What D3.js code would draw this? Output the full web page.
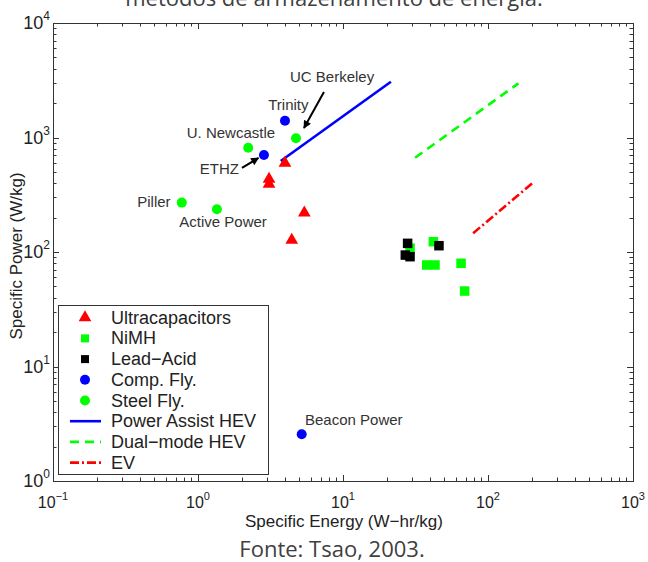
<!DOCTYPE html>
<html><head><meta charset="utf-8">
<script src="https://cdn.jsdelivr.net/npm/d3@7"></script>
<style>body{margin:0;background:#fff}svg{display:block}</style>
</head><body><svg id="c" width="648" height="562"></svg>
<script>
// ---- data (specific energy W-hr/kg, specific power W/kg) ----
const ultraE = [3.98, 3.09, 3.09, 5.41, 4.43];
const ultraP = [598, 434, 392, 220, 127];
const nimhE = [42.0, 29.0, 37.8, 43.1, 65.2, 69.0];
const nimhP = [123, 108, 77, 77, 79.7, 45.6];
const leadE = [27.9, 26.9, 29.0, 45.9];
const leadP = [119, 94, 91, 113.5];
const compE = [3.98, 2.85, 5.19];
const compP = [1403, 703, 2.56];
const steelE = [4.74, 2.22, 0.773, 1.35];
const steelP = [984, 815, 270, 236];
const powerAssistE = [3.72, 21.4];
const powerAssistP = [623, 3070];
const dualModeE = [31.4, 162];
const dualModeP = [666, 2967];
const evE = [79, 202];
const evP = [146, 398];
const xTickVals = [0.1, 1, 10, 100, 1000];
const xTickExp = ["−1", "0", "1", "2", "3"];
const yTickVals = [1, 10, 100, 1000, 10000];
const yTickExp = ["0", "1", "2", "3", "4"];
const labelNames = ["UC Berkeley", "Trinity", "U. Newcastle", "ETHZ", "Piller", "Active Power", "Beacon Power"];
const labelE = [4.31, 3.05, 0.836, 1.03, 0.381, 0.743, 5.47];
const labelP = [3052, 1738, 984, 477, 249, 166, 3.08];
const arrowFromE = [7.39, 2.01];
const arrowFromP = [2497, 542];
const arrowToE = [5.38, 2.61];
const arrowToP = [1211, 662];
const legendNames = ["Ultracapacitors", "NiMH", "Lead−Acid", "Comp. Fly.", "Steel Fly.", "Power Assist HEV", "Dual−mode HEV", "EV"];
const titleText = "métodos de armazenamento de energia.";
const sourceText = "Fonte: Tsao, 2003.";
const xTitle = "Specific Energy (W−hr/kg)";
const yTitle = "Specific Power (W/kg)";

// ---- setup ----
const svg = d3.select("#c");
const F = "'Liberation Sans', Arial, Helvetica, sans-serif";
const axisColor = "#333";
const x = d3.scaleLog().domain([0.1, 1000]).range([53, 633]);
const y = d3.scaleLog().domain([1, 10000]).range([481, 23]);
const [x0, x1] = x.range(), [y0, y1] = y.range();

// caption text (document)
svg.append("text").attr("x", 334).attr("y", 6).attr("text-anchor", "middle")
  .attr("font-family", "'Open Sans', sans-serif").attr("font-size", 22).attr("fill", "#404040").text(titleText);
svg.append("text").attr("x", 332).attr("y", 557).attr("text-anchor", "middle")
  .attr("font-family", "'Open Sans', sans-serif").attr("font-size", 22).attr("fill", "#404040").text(sourceText);

// plot area
const isMajor = v => Math.abs(Math.log10(v) - Math.round(Math.log10(v))) < 1e-9;
const ticksG = svg.append("g").attr("stroke", axisColor).attr("stroke-width", 1);
x.ticks().forEach(v => {
  const px = Math.round(x(v)) + 0.5, L = isMajor(v) ? 6 : 3.5;
  ticksG.append("line").attr("x1", px).attr("x2", px).attr("y1", y0).attr("y2", y0 - L);
  ticksG.append("line").attr("x1", px).attr("x2", px).attr("y1", y1).attr("y2", y1 + L);
});
y.ticks().forEach(v => {
  const py = Math.round(y(v)) + 0.5, L = isMajor(v) ? 6 : 3.5;
  ticksG.append("line").attr("y1", py).attr("y2", py).attr("x1", x0).attr("x2", x0 + L);
  ticksG.append("line").attr("y1", py).attr("y2", py).attr("x1", x1).attr("x2", x1 - L);
});
svg.append("rect").attr("x", x0 + 0.5).attr("y", y1 + 0.5).attr("width", x1 - x0).attr("height", y0 - y1)
  .attr("fill", "none").attr("stroke", axisColor).attr("stroke-width", 1);

// tick labels
xTickVals.forEach((v, i) => {
  const t = svg.append("text").attr("x", x(v)).attr("y", 508).attr("text-anchor", "middle")
    .attr("font-family", F).attr("font-size", 16).attr("fill", "#222");
  t.append("tspan").text("10");
  t.append("tspan").attr("dy", -8).attr("font-size", 11).text(xTickExp[i]);
});
yTickVals.forEach((v, i) => {
  const t = svg.append("text").attr("x", 50).attr("y", y(v) + 6).attr("text-anchor", "end")
    .attr("font-family", F).attr("font-size", 18).attr("fill", "#222");
  t.append("tspan").text("10");
  t.append("tspan").attr("dy", -9).attr("font-size", 12).text(yTickExp[i]);
});

// axis titles
svg.append("text").attr("x", 344).attr("y", 527).attr("text-anchor", "middle")
  .attr("font-family", F).attr("font-size", 17).attr("fill", "#222").text(xTitle);
svg.append("text").attr("transform", `translate(22,${(y0 + y1) / 2 + 4}) rotate(-90)`).attr("text-anchor", "middle")
  .attr("font-family", F).attr("font-size", 17).attr("fill", "#222").text(yTitle);

// lines
const lineGen = d3.line().x(d => x(d[0])).y(d => y(d[1]));
const lines = [
  {E: powerAssistE, P: powerAssistP, color: "#0000ff", dash: null},
  {E: dualModeE, P: dualModeP, color: "#00ff00", dash: "9,6"},
  {E: evE, P: evP, color: "#ff0000", dash: "9,3,2,3"}
];
lines.forEach(l => {
  svg.append("path").datum(l.E.map((e, i) => [e, l.P[i]])).attr("d", lineGen)
    .attr("fill", "none").attr("stroke", l.color).attr("stroke-width", 2.6)
    .attr("stroke-dasharray", l.dash);
});

// markers
const tri = d3.symbol().type(d3.symbolTriangle).size(70);
const zip = (E, P) => E.map((e, i) => [e, P[i]]);
svg.append("g").selectAll("path").data(zip(ultraE, ultraP)).join("path")
  .attr("d", tri).attr("transform", d => `translate(${x(d[0])},${y(d[1])})`).attr("fill", "#ff0000");
const sq = 9.5;
svg.append("g").selectAll("rect").data(zip(nimhE, nimhP)).join("rect")
  .attr("x", d => x(d[0]) - sq / 2).attr("y", d => y(d[1]) - sq / 2).attr("width", sq).attr("height", sq).attr("fill", "#00ff00");
svg.append("g").selectAll("rect").data(zip(leadE, leadP)).join("rect")
  .attr("x", d => x(d[0]) - sq / 2).attr("y", d => y(d[1]) - sq / 2).attr("width", sq).attr("height", sq).attr("fill", "#000");
svg.append("g").selectAll("circle").data(zip(compE, compP)).join("circle")
  .attr("cx", d => x(d[0])).attr("cy", d => y(d[1])).attr("r", 5).attr("fill", "#0000ff");
svg.append("g").selectAll("circle").data(zip(steelE, steelP)).join("circle")
  .attr("cx", d => x(d[0])).attr("cy", d => y(d[1])).attr("r", 5).attr("fill", "#00ff00");

// annotations
labelNames.forEach((n, i) => {
  svg.append("text").attr("x", x(labelE[i])).attr("y", y(labelP[i]))
    .attr("font-family", F).attr("font-size", 15).attr("fill", "#333").text(n);
});
const defs = svg.append("defs");
defs.append("marker").attr("id", "ah").attr("viewBox", "0 0 10 10").attr("refX", 9).attr("refY", 5)
  .attr("markerWidth", 4.5).attr("markerHeight", 4).attr("orient", "auto").attr("markerUnits", "strokeWidth")
  .append("path").attr("d", "M0,0 L10,5 L0,10 Z").attr("fill", "#000");
arrowFromE.forEach((e, i) => {
  svg.append("line").attr("x1", x(e)).attr("y1", y(arrowFromP[i])).attr("x2", x(arrowToE[i])).attr("y2", y(arrowToP[i]))
    .attr("stroke", "#000").attr("stroke-width", 2).attr("marker-end", "url(#ah)");
});

// legend
const lg = svg.append("g");
const lx = 58.5, ly = 305.5, lw = 210, lh = 169, rowH = 20.7, firstY = 317.7;
lg.append("rect").attr("x", lx).attr("y", ly).attr("width", lw).attr("height", lh)
  .attr("fill", "#fff").attr("stroke", axisColor).attr("stroke-width", 1);
const mx = 85;
legendNames.forEach((n, i) => {
  const cy = firstY + i * rowH;
  lg.append("text").attr("x", 111).attr("y", cy + 6).attr("font-family", F).attr("font-size", 18)
    .attr("fill", "#222").text(n);
  if (i === 0) lg.append("path").attr("d", tri).attr("transform", `translate(${mx},${cy})`).attr("fill", "#ff0000");
  if (i === 1) lg.append("rect").attr("x", mx - 4).attr("y", cy - 4).attr("width", 8).attr("height", 8).attr("fill", "#00ff00");
  if (i === 2) lg.append("rect").attr("x", mx - 4).attr("y", cy - 4).attr("width", 8).attr("height", 8).attr("fill", "#000");
  if (i === 3) lg.append("circle").attr("cx", mx).attr("cy", cy).attr("r", 5).attr("fill", "#0000ff");
  if (i === 4) lg.append("circle").attr("cx", mx).attr("cy", cy).attr("r", 5).attr("fill", "#00ff00");
  if (i >= 5) {
    const l = lines[i - 5];
    lg.append("line").attr("x1", 70).attr("x2", 101).attr("y1", cy).attr("y2", cy)
      .attr("stroke", l.color).attr("stroke-width", 2.6).attr("stroke-dasharray", l.dash);
  }
});
</script>
</body></html>
